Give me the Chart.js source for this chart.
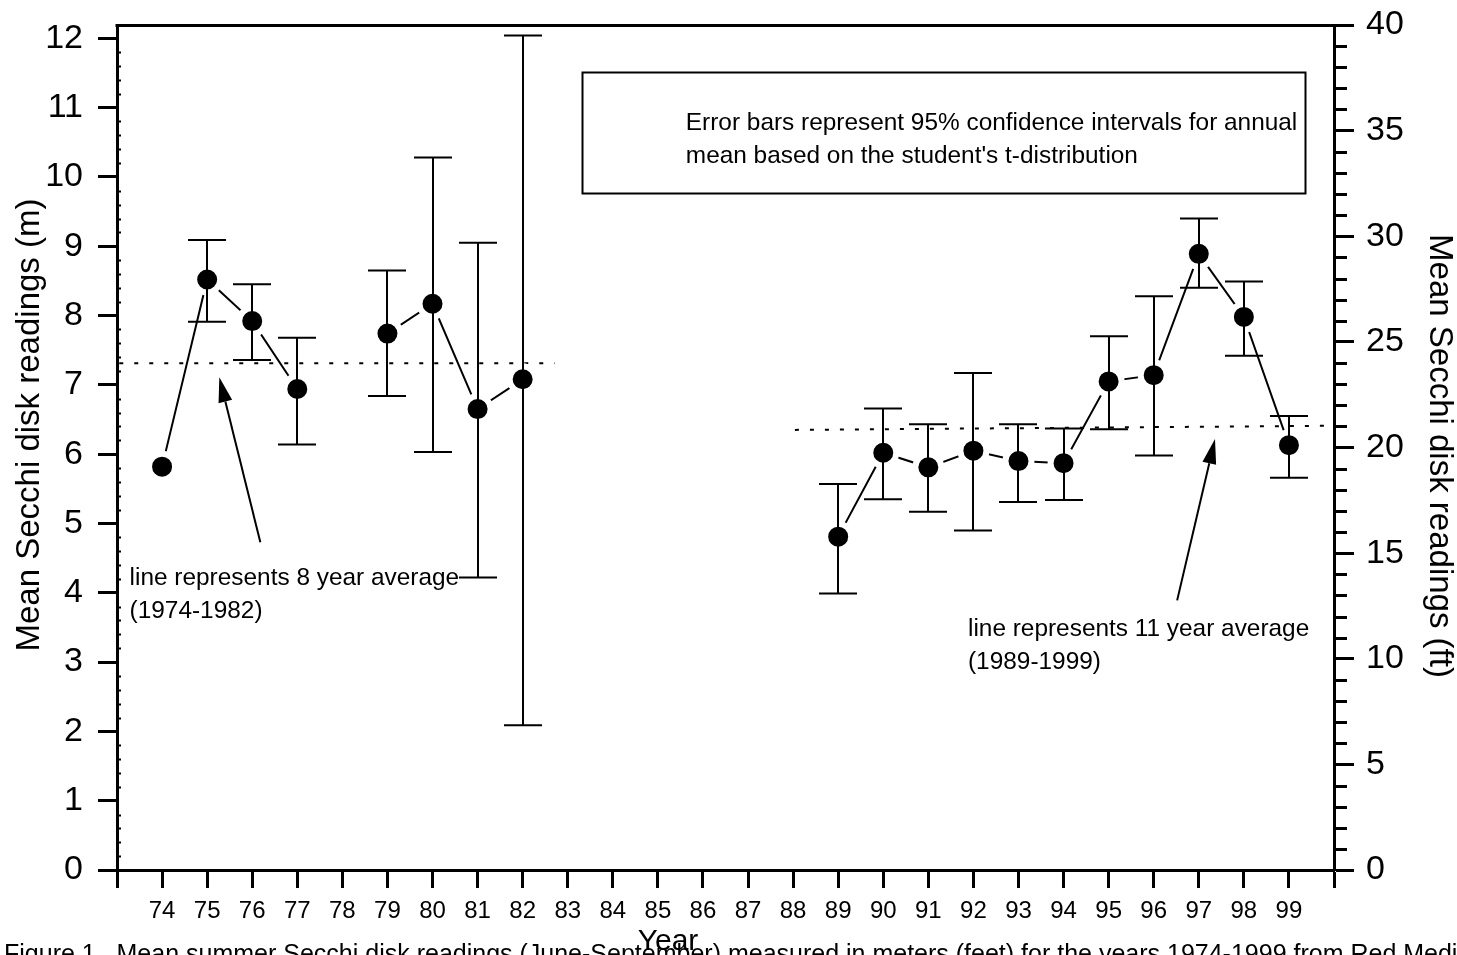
<!DOCTYPE html>
<html><head><meta charset="utf-8">
<script src="https://cdn.jsdelivr.net/npm/chart.js@4/dist/chart.umd.min.js"></script>
<style>html,body{margin:0;padding:0;background:#fff;overflow:hidden}#wrap{width:1457px;height:955px}</style>
</head><body><div id="wrap"><canvas id="c" width="1457" height="955"></canvas></div>
<script>
// ---- data (metres) ----
const years   = [74,75,76,77,78,79,80,81,82,83,84,85,86,87,88,89,90,91,92,93,94,95,96,97,98,99];
const meanM   = [5.82,8.52,7.92,6.94,null,7.74,8.17,6.65,7.08,null,null,null,null,null,null,4.81,6.02,5.81,6.05,5.90,5.87,7.05,7.14,8.89,7.98,6.13];
const ciLowM  = [null,7.91,7.36,6.14,null,6.84,6.03,4.22,2.09,null,null,null,null,null,null,3.99,5.35,5.17,4.90,5.31,5.34,6.36,5.98,8.40,7.42,5.66];
const ciHighM = [null,9.09,8.45,7.68,null,8.65,10.28,9.05,12.04,null,null,null,null,null,null,5.57,6.66,6.43,7.17,6.43,6.37,7.70,8.28,9.40,8.49,6.55];
// average lines
const avgAX = [73.05, 82.71], avgAY = [7.31, 7.31];   // 1974-1982
const avgBX = [88.04, 100.0], avgBY = [6.35, 6.41];   // 1989-1999
// ticks
const xTickValues = [73,74,75,76,77,78,79,80,81,82,83,84,85,86,87,88,89,90,91,92,93,94,95,96,97,98,99,100];
const xTickLabels = [74,75,76,77,78,79,80,81,82,83,84,85,86,87,88,89,90,91,92,93,94,95,96,97,98,99];
const yTicksM  = [0,1,2,3,4,5,6,7,8,9,10,11,12];
const yTicksFt = [0,5,10,15,20,25,30,35,40];
const FT_PER_M = 3.28084;
const FT_MAX = 40;
// texts
const yTitleLeft  = 'Mean Secchi disk readings (m)';
const yTitleRight = 'Mean Secchi disk readings (ft)';
const xTitle = 'Year';
const boxLines = ['Error bars represent 95% confidence intervals for annual', "mean based on the student's t-distribution"];
const noteA = ['line represents 8 year average', '(1974-1982)'];
const noteB = ['line represents 11 year average', '(1989-1999)'];
const caption = 'Figure 1.  Mean summer Secchi disk readings (June-September) measured in meters (feet) for the years 1974-1999 from Red Medicine Lake';

const FONT = '"Liberation Sans", Arial, Helvetica, sans-serif';

const decor = {
  id: 'decor',
  afterDatasetsDraw(chart) {
    const ctx = chart.ctx, xs = chart.scales.x, ys = chart.scales.y;
    ctx.save();
    ctx.strokeStyle = '#000'; ctx.lineWidth = 2;
    for (let i = 0; i < years.length; i++) {
      if (ciLowM[i] == null) continue;
      const px = Math.round(xs.getPixelForValue(years[i]));
      const y1 = ys.getPixelForValue(ciLowM[i]), y2 = ys.getPixelForValue(ciHighM[i]);
      ctx.beginPath();
      ctx.moveTo(px, y1); ctx.lineTo(px, y2);
      ctx.moveTo(px - 19, y1); ctx.lineTo(px + 19, y1);
      ctx.moveTo(px - 19, y2); ctx.lineTo(px + 19, y2);
      ctx.stroke();
    }
    ctx.restore();
  },
  afterDraw(chart) {
    const ctx = chart.ctx, xs = chart.scales.x, ys = chart.scales.y, y2 = chart.scales.y2;
    const ca = chart.chartArea;
    const X = v => xs.getPixelForValue(v), Y = v => ys.getPixelForValue(v);
    ctx.save();
    ctx.strokeStyle = '#000'; ctx.fillStyle = '#000';
    // top border
    ctx.lineWidth = 3;
    ctx.beginPath(); ctx.moveTo(ca.left - 1.5, ca.top + 0.5); ctx.lineTo(ca.right + 1.5, ca.top + 0.5); ctx.stroke();
    // left inner minor ticks (0.2 m)
    ctx.lineWidth = 2;
    ctx.beginPath();
    for (let k = 1; k < 61; k++) {
      if (k % 5 === 0) continue;
      const py = Math.round(Y(k * 0.2)) + 0.5;
      ctx.moveTo(ca.left, py); ctx.lineTo(ca.left + 4, py);
    }
    ctx.stroke();
    // right outer minor ticks (1 ft)
    ctx.lineWidth = 3;
    ctx.beginPath();
    for (let f = 1; f < FT_MAX; f++) {
      if (f % 5 === 0) continue;
      const py = Math.round(y2.getPixelForValue(f)) + 0.5;
      ctx.moveTo(ca.right, py); ctx.lineTo(ca.right + 13, py);
    }
    ctx.stroke();
    // text box
    ctx.lineWidth = 2;
    const bx1 = X(83.31), bx2 = X(99.36), by1 = Y(11.51), by2 = Y(9.765);
    ctx.strokeRect(Math.round(bx1) + 0.5, Math.round(by1) + 0.5, Math.round(bx2 - bx1), Math.round(by2 - by1));
    ctx.font = '24.4px ' + FONT; ctx.textAlign = 'left'; ctx.textBaseline = 'alphabetic';
    ctx.fillText(boxLines[0], X(85.62), Y(10.67));
    ctx.fillText(boxLines[1], X(85.62), Y(10.205));
    // notes
    ctx.fillText(noteA[0], X(73.28), Y(4.11));
    ctx.fillText(noteA[1], X(73.28), Y(3.63));
    ctx.fillText(noteB[0], X(91.88), Y(3.375));
    ctx.fillText(noteB[1], X(91.88), Y(2.90));
    // arrows
    const arrow = (tx, ty, hx, hy) => {
      const x0 = X(tx), y0 = Y(ty), x1 = X(hx), y1 = Y(hy);
      const a = Math.atan2(y1 - y0, x1 - x0), L = 25, W = 7;
      const bxp = x1 - L * Math.cos(a), byp = y1 - L * Math.sin(a);
      ctx.lineWidth = 2;
      ctx.beginPath(); ctx.moveTo(x0, y0); ctx.lineTo(bxp, byp); ctx.stroke();
      ctx.beginPath();
      ctx.moveTo(x1, y1);
      ctx.lineTo(bxp + W * Math.sin(a), byp - W * Math.cos(a));
      ctx.lineTo(bxp - W * Math.sin(a), byp + W * Math.cos(a));
      ctx.closePath(); ctx.fill();
    };
    arrow(76.18, 4.73, 75.27, 7.11);
    arrow(96.52, 3.89, 97.36, 6.22);
    // axis titles
    ctx.textAlign = 'center'; ctx.textBaseline = 'middle';
    ctx.font = '33px ' + FONT;
    ctx.save(); ctx.translate(30, 425); ctx.rotate(-Math.PI / 2); ctx.fillText(yTitleLeft, 0, 0); ctx.restore();
    ctx.save(); ctx.translate(1439, 456); ctx.rotate(Math.PI / 2); ctx.fillText(yTitleRight, 0, 0); ctx.restore();
    ctx.textBaseline = 'alphabetic';
    ctx.font = '30px ' + FONT;
    ctx.fillText(xTitle, 668, 950);
    ctx.textAlign = 'left';
    ctx.font = '25px ' + FONT;
    ctx.fillText(caption, 4, 962);
    ctx.restore();
  }
};

const tickFont = size => ({ family: FONT, size: size });
const zeroPadV = s => { s.paddingTop = 0; s.paddingBottom = 0; };

new Chart(document.getElementById('c'), {
  type: 'line',
  data: {
    datasets: [
      {
        data: years.map((yr, i) => ({ x: yr, y: meanM[i] })),
        borderColor: '#000', borderWidth: 2,
        pointRadius: 13, pointBackgroundColor: '#000',
        pointBorderColor: '#fff', pointBorderWidth: 6,
        spanGaps: false, tension: 0, order: 0, clip: false
      },
      {
        data: avgAX.map((v, i) => ({ x: v, y: avgAY[i] })),
        borderColor: '#000', borderWidth: 2, borderDash: [4, 11],
        pointRadius: 0, order: 1
      },
      {
        data: avgBX.map((v, i) => ({ x: v, y: avgBY[i] })),
        borderColor: '#000', borderWidth: 2, borderDash: [4, 11],
        pointRadius: 0, order: 1
      }
    ]
  },
  options: {
    responsive: false, animation: false, events: [],
    layout: { padding: { top: 25, left: 0, right: 0, bottom: 0 } },
    plugins: { legend: { display: false }, tooltip: { enabled: false }, title: { display: false } },
    scales: {
      x: {
        type: 'linear', position: 'bottom', min: 73, max: 100,
        afterBuildTicks: s => { s.ticks = xTickValues.map(v => ({ value: v })); },
        afterFit: s => { s.height = 85; s.paddingLeft = 0; s.paddingRight = 0; },
        ticks: { autoSkip: false, maxRotation: 0, minRotation: 0, padding: 9, color: '#000', font: tickFont(24),
                 callback: v => xTickLabels.includes(v) ? String(v) : '' },
        grid: { drawOnChartArea: false, drawTicks: true, tickLength: 18, tickWidth: 3, tickColor: '#000' },
        border: { display: true, width: 3, color: '#000' }
      },
      y: {
        type: 'linear', position: 'left', min: 0, max: FT_MAX / FT_PER_M,
        afterBuildTicks: s => { s.ticks = yTicksM.map(v => ({ value: v })); },
        afterFit: s => { s.width = 117; zeroPadV(s); },
        ticks: { padding: 15, color: '#000', font: tickFont(34), callback: v => String(v) },
        grid: { drawOnChartArea: false, drawTicks: true, tickLength: 19, tickWidth: 3, tickColor: '#000' },
        border: { display: true, width: 3, color: '#000' }
      },
      y2: {
        type: 'linear', position: 'right', min: 0, max: FT_MAX,
        afterBuildTicks: s => { s.ticks = yTicksFt.map(v => ({ value: v })); },
        afterFit: s => { s.width = 123; zeroPadV(s); },
        ticks: { padding: 12, color: '#000', font: tickFont(34), callback: v => String(v) },
        grid: { drawOnChartArea: false, drawTicks: true, tickLength: 20, tickWidth: 3, tickColor: '#000' },
        border: { display: true, width: 3, color: '#000' }
      }
    }
  },
  plugins: [decor]
});
</script></body></html>
